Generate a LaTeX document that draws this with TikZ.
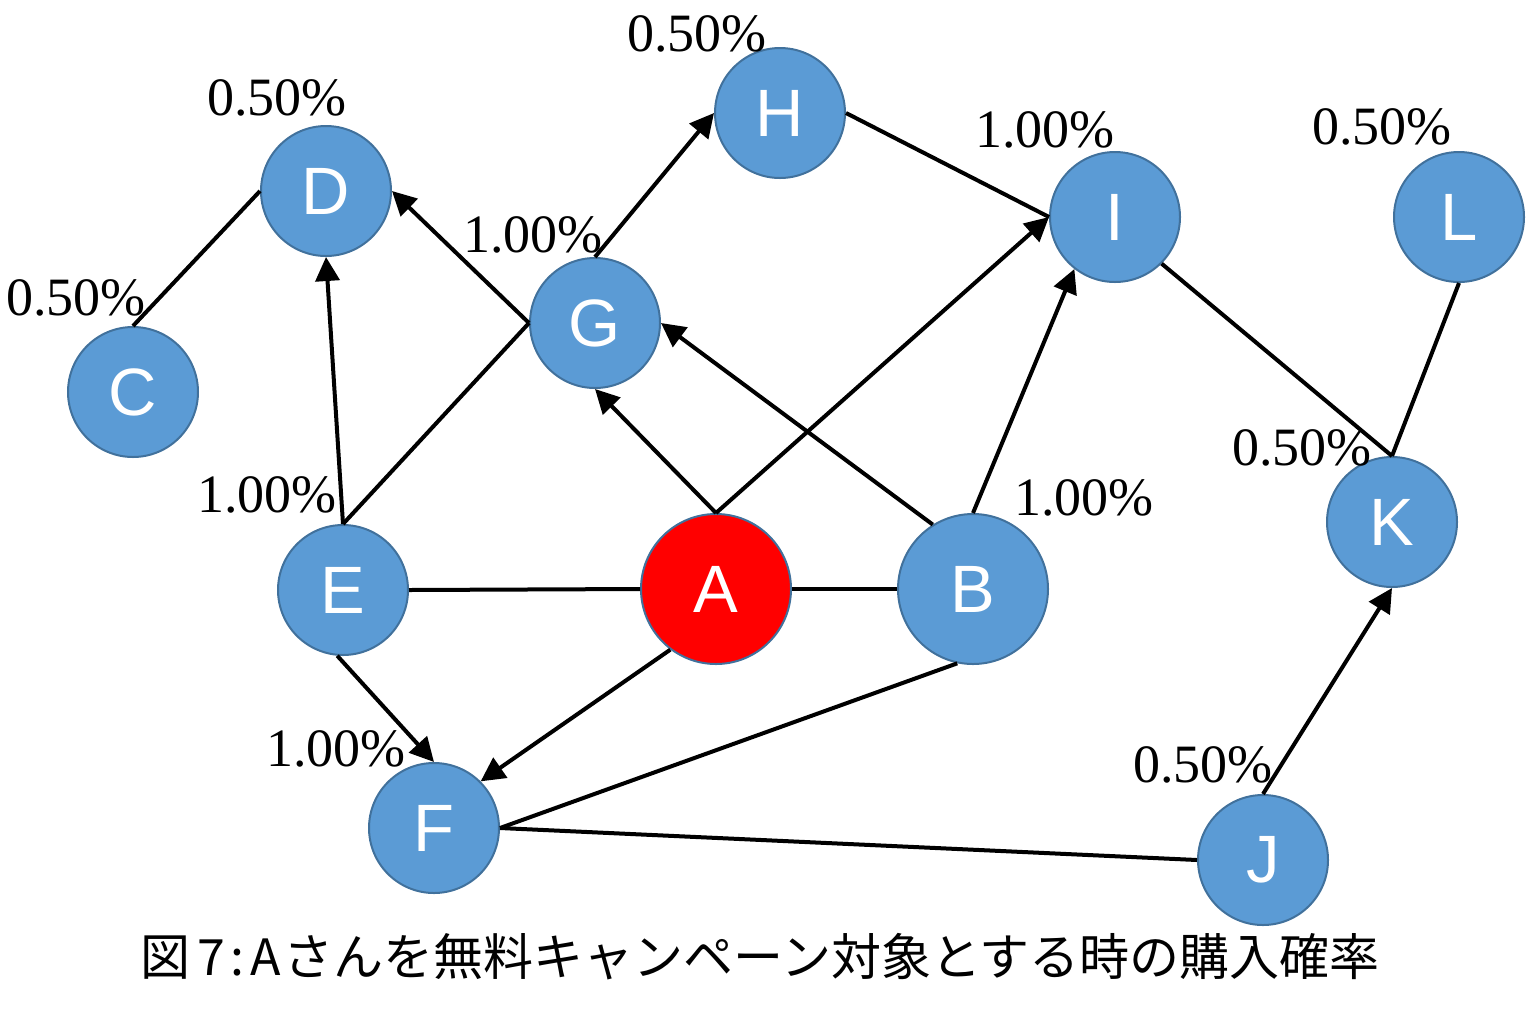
\documentclass[tikz,border=0pt]{standalone}
\usepackage{fontspec}
\setmainfont{Liberation Serif}
\newfontfamily\letterfont{Liberation Sans}
\newfontfamily\cjkfont{Noto Sans CJK JP}
\usetikzlibrary{arrows.meta}
\definecolor{nodeblue}{HTML}{5B9BD5}
\definecolor{rimblue}{HTML}{41719C}

\begin{document}
\begin{tikzpicture}[x=0.5pt, y=-0.5pt,  % 按像素坐标绘制
    user/.style={circle, draw=rimblue, line width=1pt, fill=nodeblue, text=white,
                 minimum size=65pt, inner sep=0pt, font=\letterfont\fontsize{33.5}{33.5}\selectfont},
    rate/.style={inner sep=0pt, font=\fontsize{27}{27}\selectfont},
    link/.style={line width=2pt},
    push/.style={link, -{Triangle[length=12pt,width=12pt]}}]

    \useasboundingbox (0,0) rectangle (1526,1008);

    % 绘制用户节点
    \node[user, fill=red, minimum size=75pt] (A) at (716,589) {A}; % 对象用户
    \node[user, minimum size=75pt] (B) at (973,589) {B};
    \node[user] (C) at (133,392) {C};
    \node[user] (D) at (326,191) {D};
    \node[user] (E) at (343,590) {E};
    \node[user] (F) at (434,828) {F};
    \node[user] (G) at (595,323) {G};
    \node[user] (H) at (780,113) {H};
    \node[user] (I) at (1115,217) {I};
    \node[user] (J) at (1263,860) {J};
    \node[user] (K) at (1392,522) {K};
    \node[user] (L) at (1459,217) {L};

    % 购入概率
    \node[rate] (pB) at (1084,498) {1.00\%};
    \node[rate] (pC) at (76,298) {0.50\%};
    \node[rate] (pD) at (277,98) {0.50\%};
    \node[rate] (pE) at (267,495) {1.00\%};
    \node[rate] (pF) at (336,749) {1.00\%};
    \node[rate] (pG) at (533,235) {1.00\%};
    \node[rate] (pH) at (697,34) {0.50\%};
    \node[rate] (pI) at (1045,130) {1.00\%};
    \node[rate] (pJ) at (1203,765) {0.50\%};
    \node[rate] (pK) at (1302,448) {0.50\%};
    \node[rate] (pL) at (1382,127) {0.50\%};

    % 无方向的连线
    \draw[link] (C.north) -- (D.west);
    \draw[link] (E.north) -- (G.west);
    \draw[link] (H.east) -- (I.west);
    \draw[link] (I.-45) -- (K.north);
    \draw[link] (L.south) -- (K.north);
    \draw[link] (E.east) -- (A.west);
    \draw[link] (A.east) -- (B.west);
    \draw[link] (B.258) -- (F.east);
    \draw[link] (F.east) -- (J.west);

    % 影响的方向
    \draw[push] (G.west) -- (D.east);
    \draw[push] (E.north) -- (D.south);
    \draw[push] (G.north) -- (H.west);
    \draw[push] (A.north) -- (G.south);
    \draw[push] (A.north) -- (I.west);
    \draw[push] (B.122) -- (G.east);
    \draw[push] (B.north) -- (I.232);
    \draw[push] (E.-95) -- (F.north);
    \draw[push] (A.233) -- (F.45);
    \draw[push] (J.north) -- (K.south);

    % 图题
    \node[font=\cjkfont\fontsize{25}{25}\selectfont] (title) at (760,957)
        {図\hspace{0.15em}7\hspace{0.1em}:\hspace{0.12em}A\hspace{0.05em}さんを無料キャンペーン対象とする時の購入確率};

\end{tikzpicture}
\end{document}
